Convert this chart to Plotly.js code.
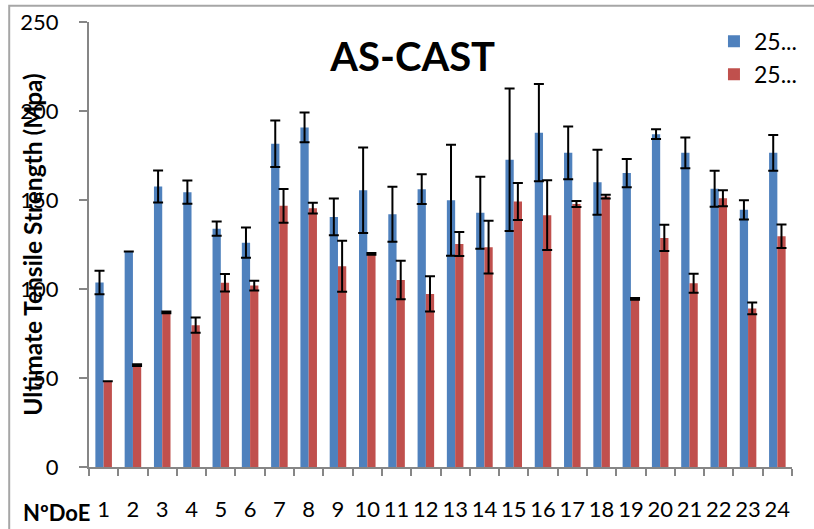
<!DOCTYPE html>
<html>
<head>
<meta charset="utf-8">
<script src="https://cdn.plot.ly/plotly-3.0.1.min.js"></script>
<style>html,body{margin:0;padding:0;background:#fff;}#chart{width:814px;height:529px;}</style>
</head>
<body>
<div id="chart"></div>
<script>
const categories = ["1","2","3","4","5","6","7","8","9","10","11","12","13","14","15","16","17","18","19","20","21","22","23","24"];
const seriesNames = ["25...", "25..."];
const blueValues = [103.6, 121, 157.6, 154.4, 133.9, 126, 181.6, 190.8, 140.5, 155.5, 142, 156.1, 149.9, 142.8, 172.6, 187.8, 176.5, 160, 165.1, 187, 176.5, 156.3, 144.5, 176.5];
const blueErrors = [6.6, 0, 9, 6.5, 4, 8.5, 13, 8.4, 10.3, 24, 15.4, 8.3, 31.2, 20.2, 40, 27.3, 14.8, 18.3, 8, 2.7, 8.6, 10.1, 5.4, 10];
const redValues = [48.2, 57.2, 86.9, 79.7, 103.5, 101.9, 146.7, 145.4, 112.8, 119.7, 105.1, 97.2, 125.3, 123.5, 149.1, 141.5, 147.7, 151.9, 94.4, 128.7, 103.2, 151, 89.1, 129.6];
const redErrors = [0, 0.5, 0.5, 4.3, 4.9, 2.7, 9.5, 3, 14.3, 0.5, 10.8, 9.9, 6.7, 14.8, 10.4, 19.6, 1.7, 1, 0.5, 7.4, 5.3, 4.5, 3.3, 6.6];
const yTicks = [0, 50, 100, 150, 200, 250];

const FONT = "Lato, 'Liberation Sans', sans-serif";
const errStyle = {type: "data", visible: true, color: "#000000", thickness: 2, width: 5};

const traces = [
  {type: "bar", name: seriesNames[0], x: categories, y: blueValues,
   marker: {color: "#4F81BD"}, error_y: Object.assign({array: blueErrors}, errStyle)},
  {type: "bar", name: seriesNames[1], x: categories, y: redValues,
   marker: {color: "#C0504D"}, error_y: Object.assign({array: redErrors}, errStyle)}
];

const layout = {
  width: 814, height: 529,
  margin: {l: 89, r: 15, t: 22, b: 62, pad: 0},
  paper_bgcolor: "#ffffff", plot_bgcolor: "#ffffff",
  font: {family: FONT, size: 22, color: "#000000"},
  barmode: "group", bargap: 0.435, bargroupgap: 0,
  showlegend: true,
  legend: {x: 0.889, xanchor: "left", y: 1.005, yanchor: "top", font: {family: FONT, size: 23},
           bgcolor: "rgba(0,0,0,0)", tracegroupgap: 0},
  title: {text: "<b>AS-CAST</b>", x: 0.507, xanchor: "center", y: 0.893, yanchor: "middle",
          font: {family: FONT, size: 40, color: "#000000"}},
  xaxis: {type: "category", tickson: "boundaries", ticks: "outside", ticklen: 7, tickwidth: 2,
          tickcolor: "#868686", showline: true, linecolor: "#868686", linewidth: 2,
          showgrid: false, zeroline: false, ticklabelstandoff: 22, tickangle: 0,
          tickfont: {family: FONT, size: 22, color: "#000000"}},
  yaxis: {range: [0, 250], tickvals: yTicks, ticks: "outside", ticklen: 8, tickwidth: 2,
          tickcolor: "#868686", showline: true, linecolor: "#868686", linewidth: 2,
          showgrid: false, zeroline: false, ticklabelstandoff: 16,
          tickfont: {family: FONT, size: 22, color: "#000000"}},
  annotations: [
    {text: "<b>Ultimate Tensile Strength (Mpa)</b>", xref: "paper", yref: "paper",
     x: -0.0808, y: 0.5, xanchor: "center", yanchor: "middle", textangle: -90, showarrow: false,
     font: {family: FONT, size: 24.5, color: "#000000"}},
    {text: "<b>NºDoE</b>", xref: "paper", yref: "paper", x: -0.0963, y: -0.103,
     xanchor: "left", yanchor: "middle", showarrow: false,
     font: {family: FONT, size: 22, color: "#000000"}}
  ],
  shapes: [
    {type: "rect", xref: "paper", yref: "paper", x0: -0.1135, x1: 1.05, y0: -0.2, y1: 1.0367,
     line: {color: "#A6A6A6", width: 2}, fillcolor: "rgba(0,0,0,0)", layer: "below"}
  ]
};

Plotly.newPlot("chart", traces, layout, {staticPlot: true, displayModeBar: false});
</script>
</body>
</html>
